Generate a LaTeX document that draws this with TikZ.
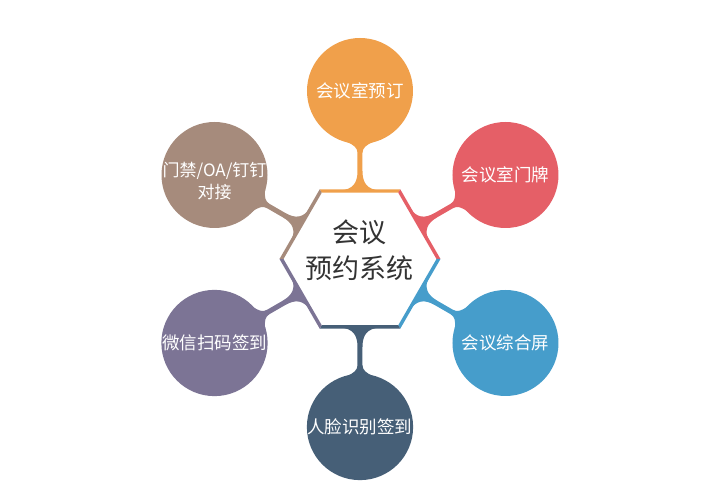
\documentclass[tikz,border=0pt]{standalone}
\usepackage{fontspec}
\setmainfont{Noto Sans CJK SC}
\definecolor{cOrange}{HTML}{F0A04B}
\definecolor{cRed}{HTML}{E55F67}
\definecolor{cBlue}{HTML}{469DCB}
\definecolor{cNavy}{HTML}{465F77}
\definecolor{cPurple}{HTML}{7C7495}
\definecolor{cBrown}{HTML}{A68B7C}
\definecolor{cText}{HTML}{333333}
\tikzset{
  bubble/.style={circle, minimum size=106pt, inner sep=0pt, text=white,
    font=\fontsize{17.5pt}{22pt}\selectfont, align=center},
  bubbletext/.style={text=white, font=\fontsize{17pt}{22pt}\selectfont, align=center, inner sep=0pt},
  centertext/.style={text=cText, font=\fontsize{27pt}{36pt}\selectfont, align=center, inner sep=0pt}
}
\newcommand{\stemshape}[2]{%
  \begin{scope}[rotate=#1]
    \fill[#2] (68.5pt,-20pt) .. controls (69.5pt,-7pt) and (76pt,-2.5pt) .. (88pt,-2.5pt)
      -- (106pt,-2.5pt) .. controls (111pt,-2.5pt) and (114pt,-6pt) .. (117pt,-13pt)
      -- (128pt,-13pt) -- (128pt,13pt) -- (117pt,13pt)
      .. controls (114pt,6pt) and (111pt,2.5pt) .. (106pt,2.5pt)
      -- (88pt,2.5pt) .. controls (76pt,2.5pt) and (69.5pt,7pt) .. (68.5pt,20pt) -- cycle;
  \end{scope}}
\newcommand{\edgeband}[2]{%
  \fill[#2] ({#1-30}:76.5pt) -- ({#1-30}:80.5pt) -- ({#1+30}:80.5pt) -- ({#1+30}:76.5pt) -- cycle;}
\begin{document}
\begin{tikzpicture}
\useasboundingbox (-360pt,-235pt) rectangle (361pt,259pt);
\fill[white] (-360pt,-235pt) rectangle (361pt,259pt);
% stems
\stemshape{90}{cOrange}
\stemshape{30}{cRed}
\stemshape{-30}{cBlue}
\stemshape{-90}{cNavy}
\stemshape{210}{cPurple}
\stemshape{150}{cBrown}
% hexagon
\fill[white] (0:77pt) -- (60:77pt) -- (120:77pt) -- (180:77pt) -- (240:77pt) -- (300:77pt) -- cycle;
\edgeband{90}{cOrange}
\edgeband{30}{cRed}
\edgeband{-30}{cBlue}
\edgeband{-90}{cNavy}
\edgeband{210}{cPurple}
\edgeband{150}{cBrown}
% circles
\node[bubble, fill=cOrange] (n1) at (90:168pt) {会议室预订};
\node[bubble, fill=cRed] (n2) at (30:168pt) {会议室门牌};
\node[bubble, fill=cBlue] (n3) at (-30:168pt) {会议综合屏};
\node[bubble, fill=cNavy] (n4) at (-90:168pt) {人脸识别签到};
\node[bubble, fill=cPurple] (n5) at (210:168pt) {微信扫码签到};
\node[bubble, fill=cBrown] (n6) at (150:168pt) {};
\node[bubbletext] (t6) at ([yshift=-6pt]n6.center) {门禁/OA/钉钉\\对接};
% center
\node[centertext] (c) at (0pt,9pt) {会议\\预约系统};
\end{tikzpicture}
\end{document}
